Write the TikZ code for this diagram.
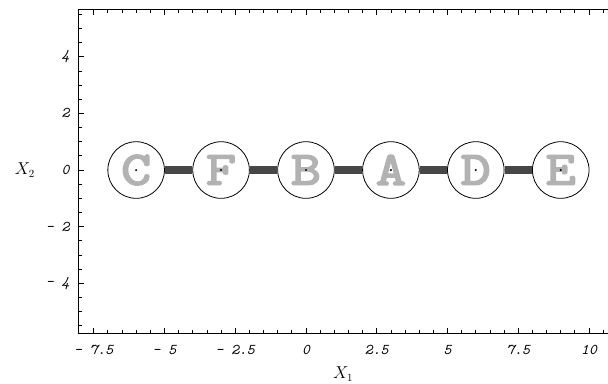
\documentclass[tikz,border=0pt]{standalone}
\usepackage{fontspec}
\newfontfamily\letterfont{lmmono10-regular.otf}[FakeBold=3.5,FakeStretch=1.2]
\begin{document}
\begin{tikzpicture}[x=1cm,y=1cm,
  frameline/.style={line width=1.2pt,black},
  tickline/.style={line width=0.8pt,black},
  ticklab/.style={font=\ttfamily\itshape\fontsize{15}{17}\selectfont,inner sep=0pt},
  vertex/.style={circle,draw=black,line width=0.8pt,fill=white,minimum size=2cm,inner sep=0pt,
    text=gray!60,font=\letterfont\fontsize{48}{48}\selectfont},
  bar/.style={line width=8pt,draw=black!72}]
\useasboundingbox (-10.81,-7.527) rectangle (10.67,6.007);
% frame
\draw[frameline] (10.67,5.68) -- (-8.05,5.68) -- (-8.05,-5.77) -- (10.67,-5.77);
% x ticks
\foreach \x in {-7.5,-7,...,10.5} {
  \draw[tickline] (\x,-5.77) -- ++(0,0.12);
  \draw[tickline] (\x,5.68) -- ++(0,-0.12);
}
\foreach \x in {-7.5,-5,...,10} {
  \draw[tickline] (\x,-5.77) -- ++(0,0.2);
  \draw[tickline] (\x,5.68) -- ++(0,-0.2);
}
% y ticks
\foreach \y in {-5.5,-5,...,5.5} {
  \draw[tickline] (-8.05,\y) -- ++(0.12,0);
}
\foreach \y in {-4,-2,...,4} {
  \draw[tickline] (-8.05,\y) -- ++(0.2,0);
}
% tick labels
\node[ticklab] (xl1) at (-7.5,-6.36) {- 7.5};
\node[ticklab] (xl2) at (-5,-6.36) {- 5};
\node[ticklab] (xl3) at (-2.5,-6.36) {- 2.5};
\node[ticklab] (xl4) at (0,-6.36) {0};
\node[ticklab] (xl5) at (2.5,-6.36) {2.5};
\node[ticklab] (xl6) at (5,-6.36) {5};
\node[ticklab] (xl7) at (7.5,-6.36) {7.5};
\node[ticklab] (xl8) at (10,-6.36) {10};
\node[ticklab,anchor=east] (yl1) at (-8.35,4) {4};
\node[ticklab,anchor=east] (yl2) at (-8.35,2) {2};
\node[ticklab,anchor=east] (yl3) at (-8.35,0) {0};
\node[ticklab,anchor=east] (yl4) at (-8.35,-2) {- 2};
\node[ticklab,anchor=east] (yl5) at (-8.35,-4) {- 4};
\node[font=\fontsize{16}{18}\selectfont,inner sep=0pt] (xlab) at (1.31,-7.22) {$X_1$};
\node[font=\fontsize{16}{18}\selectfont,inner sep=0pt] (ylab) at (-9.93,0) {$X_2$};
% vertices
\node[vertex] (C) at (-6,0) {C};
\node[vertex] (F) at (-3,0) {F};
\node[vertex] (B) at (0,0) {B};
\node[vertex] (A) at (3,0) {A};
\node[vertex] (D) at (6,0) {D};
\node[vertex] (E) at (9,0) {E};
\foreach \n in {C,F,B,A,D,E} { \fill[black] (\n.center) circle (0.04); }
\draw[bar] (C) -- (F);
\draw[bar] (F) -- (B);
\draw[bar] (B) -- (A);
\draw[bar] (A) -- (D);
\draw[bar] (D) -- (E);
\end{tikzpicture}
\end{document}
